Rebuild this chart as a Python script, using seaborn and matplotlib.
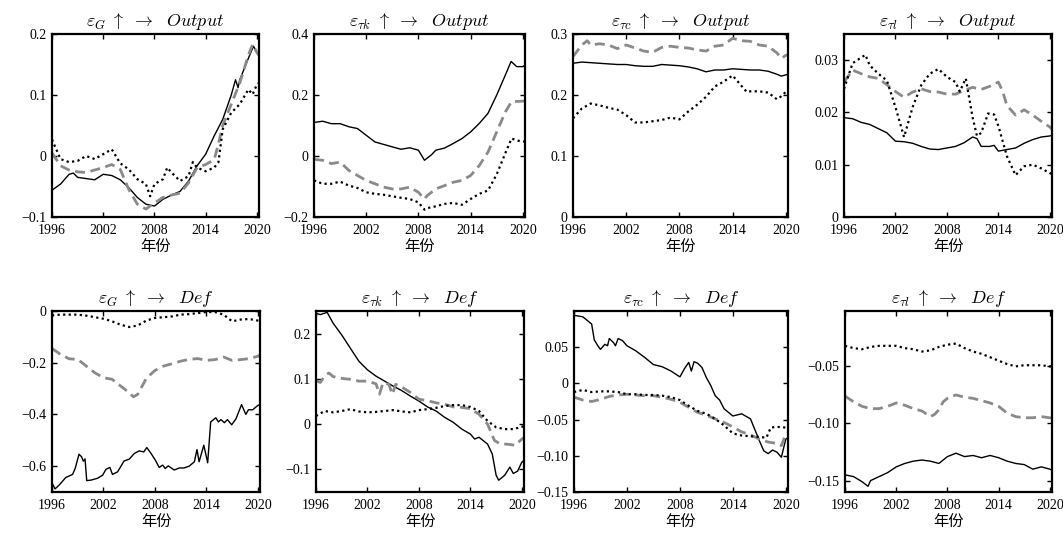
import matplotlib
matplotlib.use('Agg')
import matplotlib.pyplot as plt
import seaborn as sns

# ---------------- data (year, value) ----------------
G_OUT_SOLID = [(1996,-0.056),(1997,-0.046),(1998,-0.030),(1998.5,-0.028),(1999,-0.035),(2000,-0.037),(2001,-0.039),(2002,-0.030),(2003,-0.032),(2004,-0.039),(2005,-0.052),(2006,-0.068),(2007,-0.079),(2008,-0.082),(2009,-0.071),(2010,-0.064),(2011,-0.058),(2012,-0.041),(2013,-0.016),(2014,0.003),(2015,0.033),(2016,0.060),(2017,0.100),(2017.5,0.125),(2017.8,0.112),(2018,0.125),(2019,0.160),(2019.6,0.180),(2020,0.170),(2020.25,0.165)]
G_OUT_DASH = [(1996,0.005),(1997,-0.016),(1998,-0.023),(1999,-0.026),(2000,-0.027),(2001,-0.023),(2002,-0.019),(2003,-0.014),(2004,-0.022),(2005,-0.055),(2006,-0.079),(2007,-0.087),(2008,-0.077),(2009,-0.068),(2010,-0.064),(2011,-0.061),(2012,-0.044),(2013,-0.019),(2014,-0.014),(2015,-0.006),(2015.5,0.020),(2016,0.050),(2017,0.085),(2018,0.120),(2019,0.165),(2019.5,0.183),(2020,0.170),(2020.25,0.165)]
G_OUT_DOT = [(1996,0.027),(1997,-0.005),(1998,-0.010),(1999,-0.008),(2000,0.000),(2001,-0.005),(2002,0.003),(2003,0.011),(2004,-0.012),(2005,-0.022),(2006,-0.038),(2007,-0.046),(2007.5,-0.066),(2008,-0.046),(2009,-0.038),(2009.5,-0.019),(2010,-0.027),(2011,-0.041),(2012,-0.033),(2012.5,-0.010),(2013,-0.019),(2014,-0.025),(2015,-0.019),(2015.5,-0.010),(2016,0.044),(2017,0.071),(2018,0.085),(2019,0.109),(2019.5,0.101),(2020,0.117),(2020.25,0.120)]

TK_OUT_SOLID = [(1996,0.110),(1997,0.114),(1998,0.106),(1999,0.106),(2000,0.096),(2001,0.090),(2002,0.068),(2003,0.046),(2004,0.038),(2005,0.030),(2006,0.022),(2007,0.027),(2008,0.019),(2008.7,-0.014),(2009.5,0.004),(2010,0.019),(2011,0.026),(2012,0.041),(2013,0.057),(2014,0.079),(2015,0.107),(2016,0.140),(2017,0.200),(2018,0.266),(2018.65,0.310),(2019.3,0.293),(2020,0.293),(2020.25,0.298)]
TK_OUT_DASH = [(1996,-0.011),(1997,-0.014),(1998,-0.025),(1999,-0.020),(2000,-0.047),(2001,-0.064),(2002,-0.080),(2003,-0.091),(2004,-0.102),(2005,-0.108),(2006,-0.108),(2007,-0.102),(2008,-0.119),(2008.7,-0.141),(2009,-0.130),(2010,-0.108),(2011,-0.097),(2012,-0.086),(2013,-0.080),(2014,-0.064),(2015,-0.031),(2016,0.013),(2017,0.079),(2018,0.145),(2018.7,0.178),(2020,0.180),(2020.25,0.180)]
TK_OUT_DOT = [(1996,-0.080),(1997,-0.091),(1998,-0.091),(1999,-0.084),(2000,-0.097),(2001,-0.105),(2002,-0.119),(2003,-0.124),(2004,-0.127),(2005,-0.132),(2006,-0.137),(2007,-0.141),(2008,-0.152),(2008.7,-0.176),(2009,-0.171),(2010,-0.165),(2011,-0.157),(2012,-0.154),(2013,-0.160),(2014,-0.141),(2015,-0.124),(2016,-0.113),(2017,-0.060),(2018,0.010),(2018.7,0.057),(2019.5,0.050),(2020.25,0.047)]

TC_OUT_SOLID = [(1996,0.252),(1997,0.254),(1998,0.253),(1999,0.252),(2000,0.251),(2001,0.250),(2002,0.250),(2003,0.248),(2004,0.247),(2005,0.247),(2006,0.250),(2007,0.249),(2008,0.248),(2009,0.246),(2010,0.243),(2011,0.238),(2012,0.241),(2013,0.241),(2014,0.243),(2015,0.242),(2016,0.241),(2017,0.241),(2018,0.239),(2019,0.234),(2019.5,0.231),(2020,0.233),(2020.25,0.234)]
TC_OUT_DASH = [(1996,0.263),(1997,0.282),(1997.6,0.289),(1998,0.282),(1999,0.284),(2000,0.282),(2001,0.276),(2002,0.282),(2003,0.277),(2004,0.272),(2005,0.270),(2006,0.278),(2007,0.280),(2008,0.278),(2009,0.277),(2010,0.274),(2011,0.272),(2012,0.280),(2013,0.282),(2014,0.293),(2015,0.289),(2016,0.288),(2017,0.282),(2018,0.280),(2019,0.269),(2019.5,0.260),(2020,0.265),(2020.25,0.266)]
TC_OUT_DOT = [(1996,0.162),(1997,0.178),(1998,0.186),(1999,0.183),(2000,0.179),(2001,0.176),(2002,0.167),(2003,0.155),(2004,0.155),(2005,0.157),(2006,0.159),(2007,0.163),(2008,0.160),(2009,0.173),(2010,0.184),(2011,0.197),(2012,0.214),(2013,0.222),(2014,0.232),(2015,0.215),(2015.6,0.205),(2016,0.206),(2017,0.206),(2018,0.204),(2019,0.193),(2019.5,0.198),(2020,0.205),(2020.25,0.203)]

TL_OUT_SOLID = [(1996,0.0190),(1997,0.0188),(1998,0.0181),(1999,0.0177),(2000,0.0169),(2001,0.0161),(2002,0.0145),(2003,0.0144),(2004,0.0141),(2005,0.0135),(2006,0.0130),(2007,0.0129),(2008,0.0132),(2009,0.0135),(2010,0.0142),(2011,0.0153),(2011.5,0.0150),(2012,0.0135),(2013,0.0135),(2013.5,0.0137),(2014,0.0126),(2015,0.0129),(2016,0.0132),(2017,0.0141),(2018,0.0148),(2019,0.0153),(2020,0.0155),(2020.25,0.0156)]
TL_OUT_DASH = [(1996,0.0258),(1997,0.0281),(1998,0.0274),(1999,0.0268),(2000,0.0265),(2001,0.0253),(2002,0.0240),(2003,0.0229),(2004,0.0239),(2005,0.0245),(2006,0.0240),(2007,0.0239),(2008,0.0235),(2009,0.0235),(2010,0.0242),(2011,0.0248),(2012,0.0244),(2013,0.0250),(2014,0.0258),(2014.5,0.0240),(2015,0.0213),(2016,0.0195),(2017,0.0205),(2018,0.0195),(2019,0.0183),(2020,0.0172),(2020.25,0.0168)]
TL_OUT_DOT = [(1996,0.0245),(1997,0.0294),(1998,0.0305),(1998.5,0.0310),(1999,0.0290),(2000,0.0274),(2001,0.0261),(2002,0.0210),(2003,0.0153),(2004,0.0210),(2005,0.0252),(2006,0.0274),(2007,0.0283),(2008,0.0268),(2009,0.0258),(2009.5,0.0240),(2010.2,0.0265),(2011,0.0190),(2011.5,0.0155),(2012,0.0161),(2012.8,0.0198),(2013.5,0.0196),(2014,0.0174),(2015,0.0116),(2016,0.0080),(2017,0.0097),(2018,0.0100),(2019,0.0093),(2020,0.0084),(2020.25,0.0082)]

G_DEF_SOLID = [(1996.0,-0.664),(1996.35,-0.688),(1996.85,-0.673),(1997.6,-0.644),(1998.4,-0.632),(1998.7,-0.609),(1999.15,-0.554),(1999.45,-0.564),(1999.65,-0.581),(1999.85,-0.572),(2000.05,-0.656),(2000.55,-0.654),(2001.3,-0.647),(2001.9,-0.635),(2002.3,-0.612),(2002.75,-0.605),(2003.05,-0.632),(2003.65,-0.622),(2004.4,-0.580),(2005.0,-0.573),(2005.6,-0.551),(2006.15,-0.541),(2006.7,-0.545),(2007.05,-0.528),(2007.55,-0.551),(2008.05,-0.577),(2008.5,-0.605),(2008.9,-0.596),(2009.2,-0.609),(2009.55,-0.599),(2010.25,-0.615),(2010.85,-0.607),(2011.4,-0.607),(2012.0,-0.600),(2012.6,-0.583),(2012.9,-0.536),(2013.15,-0.583),(2013.7,-0.519),(2014.15,-0.587),(2014.5,-0.429),(2015.1,-0.413),(2015.4,-0.429),(2015.7,-0.420),(2016.1,-0.432),(2016.45,-0.420),(2016.95,-0.440),(2017.45,-0.417),(2018.1,-0.362),(2018.6,-0.400),(2018.9,-0.382),(2019.4,-0.382),(2020.0,-0.365),(2020.25,-0.362)]
G_DEF_DASH = [(1996,-0.145),(1997,-0.168),(1998,-0.185),(1999,-0.187),(2000,-0.213),(2001,-0.239),(2002,-0.258),(2003,-0.264),(2004,-0.290),(2005,-0.316),(2005.5,-0.332),(2006,-0.322),(2007,-0.260),(2008,-0.230),(2009,-0.213),(2010,-0.204),(2011,-0.194),(2012,-0.187),(2013,-0.184),(2014,-0.191),(2015,-0.188),(2016,-0.178),(2017,-0.191),(2018,-0.188),(2019,-0.184),(2020,-0.175),(2020.25,-0.170)]
G_DEF_DOT = [(1996,-0.017),(1997,-0.014),(1998,-0.014),(1999,-0.014),(2000,-0.018),(2001,-0.024),(2002,-0.030),(2003,-0.040),(2004,-0.053),(2005,-0.062),(2006,-0.056),(2007,-0.037),(2008,-0.027),(2009,-0.024),(2010,-0.021),(2011,-0.014),(2012,-0.012),(2013,-0.008),(2014,-0.004),(2015,-0.004),(2016,-0.014),(2017,-0.040),(2018,-0.033),(2019,-0.031),(2020,-0.037),(2020.25,-0.038)]

TK_DEF_SOLID = [(1996,0.245),(1996.5,0.242),(1997.3,0.247),(1998,0.223),(1999,0.197),(2000,0.168),(2001,0.139),(2002,0.120),(2003,0.106),(2004,0.095),(2005,0.084),(2006,0.074),(2007,0.062),(2008,0.051),(2009,0.038),(2010,0.029),(2011,0.015),(2012,0.004),(2013,-0.011),(2014,-0.022),(2014.5,-0.033),(2015,-0.029),(2016,-0.044),(2016.55,-0.066),(2017,-0.113),(2017.3,-0.124),(2018,-0.113),(2018.6,-0.095),(2019,-0.109),(2019.5,-0.104),(2020,-0.084),(2020.25,-0.080)]
TK_DEF_DASH = [(1996,0.096),(1996.5,0.092),(1997,0.106),(1997.5,0.113),(1998,0.105),(1999,0.101),(2000,0.099),(2001,0.095),(2002,0.095),(2003,0.089),(2003.4,0.066),(2003.8,0.091),(2004.5,0.088),(2004.9,0.066),(2005.3,0.088),(2006,0.082),(2007,0.070),(2008,0.055),(2009,0.052),(2010,0.047),(2011,0.044),(2012,0.038),(2013,0.037),(2014,0.034),(2015,0.022),(2016,0.000),(2016.8,-0.036),(2017.4,-0.043),(2018.6,-0.045),(2019.2,-0.047),(2020,-0.033),(2020.25,-0.030)]
TK_DEF_DOT = [(1996,0.018),(1997,0.029),(1998,0.026),(1999,0.029),(2000,0.033),(2001,0.028),(2002,0.026),(2003,0.027),(2004,0.029),(2005,0.031),(2006,0.028),(2007,0.026),(2008,0.031),(2009,0.033),(2010,0.036),(2011,0.040),(2012,0.042),(2013,0.042),(2014,0.038),(2015,0.029),(2016,0.007),(2017,-0.007),(2018,-0.011),(2019,-0.011),(2020,-0.006),(2020.25,-0.004)]

TC_DEF_SOLID = [(1996,0.094),(1997,0.092),(1998,0.082),(1998.3,0.060),(1998.7,0.052),(1999,0.047),(1999.5,0.054),(1999.8,0.052),(2000,0.062),(2000.5,0.056),(2000.7,0.052),(2001,0.062),(2001.5,0.059),(2002,0.052),(2003,0.045),(2004,0.036),(2005,0.026),(2006,0.023),(2007,0.017),(2008,0.009),(2008.5,0.020),(2009,0.029),(2009.3,0.017),(2009.6,0.030),(2010,0.028),(2010.5,0.022),(2011,0.008),(2011.5,-0.003),(2012,-0.017),(2012.5,-0.023),(2013,-0.035),(2014,-0.045),(2015,-0.042),(2016,-0.049),(2017,-0.079),(2017.5,-0.093),(2018,-0.097),(2018.5,-0.092),(2019,-0.095),(2019.5,-0.102),(2020,-0.077),(2020.25,-0.075)]
TC_DEF_DASH = [(1996,-0.019),(1997,-0.023),(1998,-0.025),(1999,-0.022),(2000,-0.018),(2001,-0.016),(2002,-0.015),(2003,-0.016),(2004,-0.017),(2005,-0.017),(2006,-0.019),(2007,-0.022),(2008,-0.026),(2009,-0.033),(2010,-0.040),(2011,-0.044),(2012,-0.049),(2013,-0.054),(2014,-0.060),(2015,-0.067),(2016,-0.071),(2017,-0.077),(2018,-0.081),(2019,-0.083),(2019.5,-0.086),(2020,-0.070),(2020.25,-0.068)]
TC_DEF_DOT = [(1996,-0.012),(1997,-0.009),(1998,-0.012),(1999,-0.011),(2000,-0.011),(2001,-0.012),(2002,-0.015),(2003,-0.015),(2004,-0.016),(2005,-0.016),(2006,-0.017),(2007,-0.019),(2008,-0.023),(2009,-0.031),(2010,-0.038),(2011,-0.042),(2012,-0.049),(2013,-0.058),(2014,-0.069),(2015,-0.072),(2016,-0.073),(2017,-0.074),(2017.8,-0.075),(2018.3,-0.061),(2019,-0.060),(2020,-0.061),(2020.25,-0.061)]

TL_DEF_SOLID = [(1996,-0.145),(1997,-0.1465),(1998,-0.151),(1998.7,-0.155),(1999,-0.150),(2000,-0.1465),(2001,-0.143),(2002,-0.138),(2003,-0.135),(2004,-0.133),(2005,-0.132),(2006,-0.133),(2007,-0.135),(2008,-0.129),(2009,-0.126),(2010,-0.129),(2011,-0.128),(2012,-0.130),(2013,-0.128),(2014,-0.130),(2015,-0.133),(2016,-0.135),(2017,-0.136),(2018,-0.140),(2019,-0.138),(2020,-0.140),(2020.25,-0.141)]
TL_DEF_DASH = [(1996,-0.076),(1997,-0.081),(1998,-0.085),(1999,-0.087),(2000,-0.087),(2001,-0.085),(2002,-0.082),(2003,-0.084),(2004,-0.087),(2005,-0.089),(2006,-0.094),(2006.5,-0.092),(2007,-0.088),(2007.5,-0.081),(2008,-0.078),(2009,-0.075),(2010,-0.077),(2011,-0.078),(2012,-0.080),(2013,-0.082),(2014,-0.085),(2015,-0.091),(2016,-0.094),(2017,-0.095),(2018,-0.095),(2019,-0.094),(2020,-0.095),(2020.25,-0.095)]
TL_DEF_DOT = [(1996,-0.032),(1997,-0.034),(1998,-0.035),(1999,-0.033),(2000,-0.032),(2001,-0.032),(2002,-0.032),(2003,-0.034),(2004,-0.035),(2005,-0.037),(2006,-0.036),(2007,-0.033),(2008,-0.031),(2009,-0.030),(2010,-0.034),(2011,-0.037),(2012,-0.039),(2013,-0.042),(2014,-0.045),(2015,-0.048),(2016,-0.050),(2017,-0.049),(2018,-0.049),(2019,-0.049),(2020,-0.050),(2020.25,-0.050)]

TITLES = [r'$\varepsilon_{G}\ \uparrow\ \rightarrow\ \ Output$', r'$\varepsilon_{\tau k}\ \uparrow\ \rightarrow\ \ Output$',
          r'$\varepsilon_{\tau c}\ \uparrow\ \rightarrow\ \ Output$', r'$\varepsilon_{\tau l}\ \uparrow\ \rightarrow\ \ Output$',
          r'$\varepsilon_{G}\ \uparrow\ \rightarrow\ \ Def$', r'$\varepsilon_{\tau k}\ \uparrow\ \rightarrow\ \ Def$',
          r'$\varepsilon_{\tau c}\ \uparrow\ \rightarrow\ \ Def$', r'$\varepsilon_{\tau l}\ \uparrow\ \rightarrow\ \ Def$']
SERIES = [(G_OUT_SOLID, G_OUT_DASH, G_OUT_DOT), (TK_OUT_SOLID, TK_OUT_DASH, TK_OUT_DOT),
          (TC_OUT_SOLID, TC_OUT_DASH, TC_OUT_DOT), (TL_OUT_SOLID, TL_OUT_DASH, TL_OUT_DOT),
          (G_DEF_SOLID, G_DEF_DASH, G_DEF_DOT), (TK_DEF_SOLID, TK_DEF_DASH, TK_DEF_DOT),
          (TC_DEF_SOLID, TC_DEF_DASH, TC_DEF_DOT), (TL_DEF_SOLID, TL_DEF_DASH, TL_DEF_DOT)]
YTICKS = [[-0.1, 0, 0.1, 0.2], [-0.2, 0, 0.2, 0.4], [0, 0.1, 0.2, 0.3], [0, 0.01, 0.02, 0.03],
          [-0.6, -0.4, -0.2, 0], [-0.1, 0, 0.1, 0.2], [-0.15, -0.10, -0.05, 0, 0.05], [-0.15, -0.10, -0.05]]
YTICKLABELS = [['−0.1', '0', '0.1', '0.2'], ['−0.2', '0', '0.2', '0.4'], ['0', '0.1', '0.2', '0.3'],
               ['0', '0.01', '0.02', '0.03'], ['−0.6', '−0.4', '−0.2', '0'], ['−0.1', '0', '0.1', '0.2'],
               ['−0.15', '−0.10', '−0.05', '0', '0.05'], ['−0.15', '−0.10', '−0.05']]
YLIMS = [(-0.1, 0.2), (-0.2, 0.4), (0, 0.3), (0, 0.035), (-0.7, 0.0), (-0.15, 0.25), (-0.15, 0.1), (-0.16, -0.0015)]
XTICKS = [1996, 2002, 2008, 2014, 2020]
XLABEL = '年份'

# ---------------- style ----------------
sns.set_style('ticks')
plt.rcParams['font.family'] = ['Liberation Serif', 'Noto Sans CJK SC', 'DejaVu Sans']
plt.rcParams['mathtext.fontset'] = 'cm'
plt.rcParams['axes.unicode_minus'] = True
for k in ['text.color', 'axes.labelcolor', 'xtick.color', 'ytick.color', 'axes.edgecolor']:
    plt.rcParams[k] = 'black'

W, H = 1063, 543
fig = plt.figure(figsize=(W / 100, H / 100), dpi=100)

COL_PX = [[(52, 259), (314, 525), (573, 788), (844, 1052)],
          [(52, 260), (316, 524), (574, 788), (845, 1052)]]
ROW_PX = [(34, 217), (311, 492)]

LINE_STYLES = [dict(color='black', lw=1.0, linestyle='-'),
               dict(color='#8a8a8a', lw=2.0, linestyle=(0, (3.6, 2.0))),
               dict(color='black', lw=1.6, linestyle=(0, (1.0, 1.5)))]

for i in range(8):
    r, c = divmod(i, 4)
    x0, x1 = COL_PX[r][c]
    t, b = ROW_PX[r]
    ax = fig.add_axes([x0 / W, 1 - b / H, (x1 - x0) / W, (b - t) / H])
    for series, st in zip(SERIES[i], LINE_STYLES):
        xs = [p[0] for p in series]
        ys = [p[1] for p in series]
        sns.lineplot(x=xs, y=ys, ax=ax, sort=False, estimator=None, **st)
    ax.set_xlim(1996, 2020.25)
    ax.set_ylim(*YLIMS[i])
    ax.set_xticks(XTICKS)
    ax.set_xticklabels([str(v) for v in XTICKS])
    ax.set_yticks(YTICKS[i])
    ax.set_yticklabels(YTICKLABELS[i])
    ax.tick_params(direction='in', top=True, right=True, length=3.5, width=1.0,
                   labelsize=10, colors='black')
    ax.tick_params(axis='x', pad=5)
    ax.tick_params(axis='y', pad=4)
    for s in ax.spines.values():
        s.set_linewidth(1.6)
        s.set_color('black')
    ax.set_title(TITLES[i], fontsize=13, pad=6, color='black')
    ax.set_xlabel(XLABEL, fontsize=11, family=['Noto Sans CJK SC'], labelpad=1, color='black')
    ax.set_ylabel('')

fig.savefig('out.png', dpi=100)
